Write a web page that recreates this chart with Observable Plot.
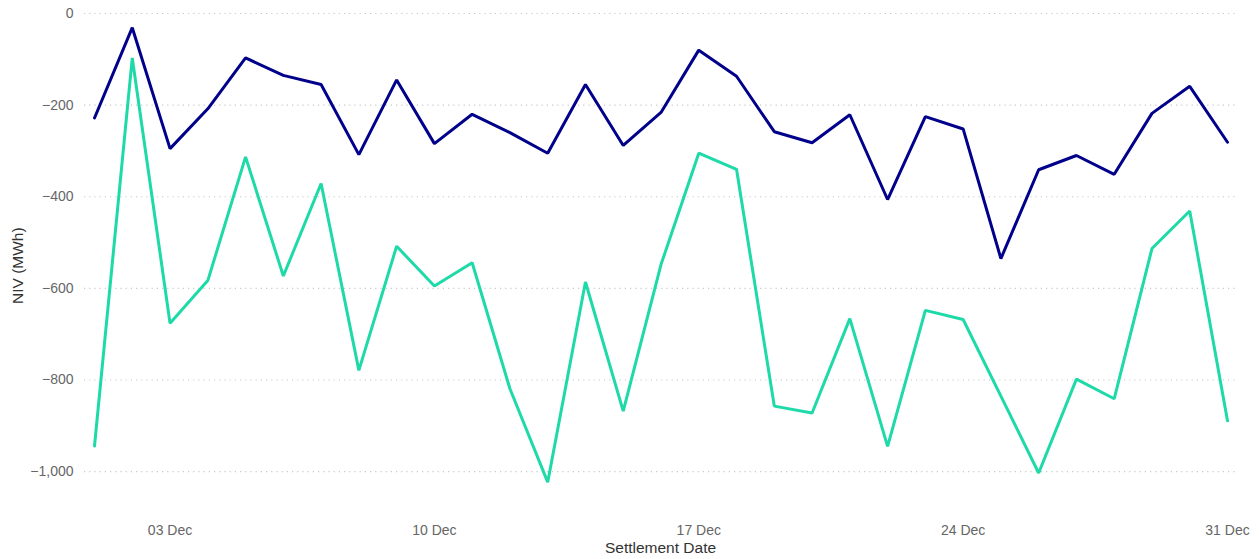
<!DOCTYPE html>
<html>
<head>
<meta charset="utf-8">
<script src="https://cdn.jsdelivr.net/npm/d3@7"></script>
<script src="https://cdn.jsdelivr.net/npm/@observablehq/plot@0.6"></script>
<style>
  html, body { margin: 0; padding: 0; background: #fff; }
  #chart { width: 1259px; height: 559px; }
</style>
</head>
<body>
<div id="chart"></div>
<script>
const dates = [
  "2023-12-01","2023-12-02","2023-12-03","2023-12-04","2023-12-05","2023-12-06","2023-12-07","2023-12-08",
  "2023-12-09","2023-12-10","2023-12-11","2023-12-12","2023-12-13","2023-12-14","2023-12-15","2023-12-16",
  "2023-12-17","2023-12-18","2023-12-19","2023-12-20","2023-12-21","2023-12-22","2023-12-23","2023-12-24",
  "2023-12-25","2023-12-26","2023-12-27","2023-12-28","2023-12-29","2023-12-30","2023-12-31"
];
const seriesNavy = [
  -228, -31, -295, -208, -97, -135, -155, -308,
  -145, -284, -220, -260, -305, -155, -288, -216,
  -80, -137, -258, -282, -221, -406, -225, -252,
  -535, -341, -310, -351, -218, -159, -281
];
const seriesTeal = [
  -944, -97, -676, -583, -313, -573, -371, -779,
  -508, -595, -544, -819, -1023, -586, -868, -548,
  -305, -340, -857, -872, -666, -945, -648, -668,
  -835, -1003, -798, -841, -513, -431, -889
];
const seriesNames = ["Series 1", "Series 2"];
const seriesColors = ["#00008b", "#1ed9a8"];
const xTicks = ["2023-12-03","2023-12-10","2023-12-17","2023-12-24","2023-12-31"];
const yTicks = [0, -200, -400, -600, -800, -1000];
const xLabel = "Settlement Date";
const yLabel = "NIV (MWh)";

const parse = d3.utcParse("%Y-%m-%d");
const rows = [];
dates.forEach((d, i) => {
  rows.push({date: parse(d), value: seriesNavy[i], series: seriesNames[0]});
  rows.push({date: parse(d), value: seriesTeal[i], series: seriesNames[1]});
});

const fmtNum = d3.format(",");
const fontFamily = "'Liberation Sans', Arial, Helvetica, sans-serif";

const chart = Plot.plot({
  width: 1259,
  height: 559,
  marginLeft: 84,
  marginRight: 23,
  marginTop: 13,
  marginBottom: 59,
  style: {fontFamily, background: "#fff", overflow: "visible"},
  x: {type: "utc", domain: [parse(dates[0]), parse(dates[dates.length - 1])], insetLeft: 10, insetRight: 9},
  y: {domain: [-1063, 0]},
  color: {domain: seriesNames, range: seriesColors},
  marks: [
    Plot.gridY(yTicks, {stroke: "#c8c8c8", strokeOpacity: 1, strokeDasharray: "1.2,4", strokeWidth: 1.2}),
    Plot.axisY(yTicks, {tickSize: 0, tickPadding: 11, tickFormat: fmtNum, label: null, fontSize: 14, fill: "#666"}),
    Plot.axisX(xTicks.map(parse), {tickSize: 0, tickPadding: 25, tickFormat: d3.utcFormat("%d %b"), label: null, fontSize: 14, fill: "#666"}),
    Plot.line(rows, {x: "date", y: "value", z: "series", stroke: "series", strokeWidth: 3, strokeLinejoin: "miter", curve: "linear"}),
    Plot.text([xLabel], {frameAnchor: "bottom", dy: 52, fontSize: 15.5, fill: "#333", text: d => d}),
    Plot.text([yLabel], {frameAnchor: "left", dx: -66, dy: 47, rotate: -90, fontSize: 15.5, fill: "#333", text: d => d})
  ]
});
document.getElementById("chart").appendChild(chart);
</script>
</body>
</html>
